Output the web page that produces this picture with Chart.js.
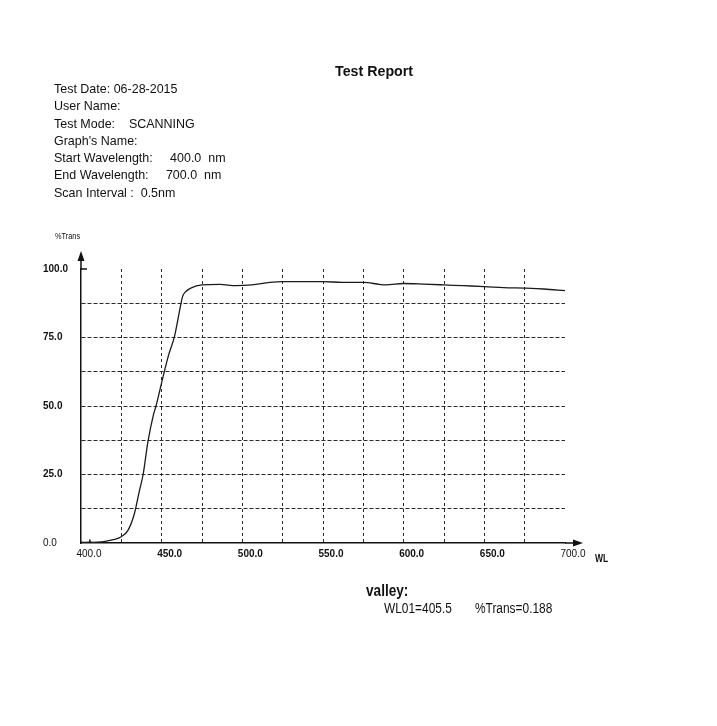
<!DOCTYPE html>
<html>
<head>
<meta charset="utf-8">
<script src="https://cdn.jsdelivr.net/npm/chart.js@4"></script>
<style>
  html, body { margin: 0; padding: 0; background: #fff; }
  #wrap { position: relative; width: 717px; height: 726px; overflow: hidden; }
  #chart { position: absolute; left: 0; top: 0; }
  .t { position: absolute; font-family: 'Liberation Sans', Arial, sans-serif; color: #111; white-space: pre; transform-origin: 0 0; }
</style>
</head>
<body>
<div id="wrap">
  <canvas id="chart" width="717" height="726"></canvas>
  <div class="t" style="left:335px;top:62px;font-size:15px;font-weight:bold;transform:scaleX(0.95);">Test Report</div>
  <div class="t" style="left:54px;top:80px;font-size:13px;line-height:17.3px;transform:scaleX(0.96);">Test Date: 06-28-2015
User Name:
Test Mode:    SCANNING
Graph's Name:
Start Wavelength:     400.0  nm
End Wavelength:     700.0  nm
Scan Interval :  0.5nm</div>
  <div class="t" style="left:55px;top:231px;font-size:9px;transform:scaleX(0.82);">%Trans</div>
  <div class="t" style="left:595px;top:553px;font-size:10px;font-weight:bold;transform:scaleX(0.85);">WL</div>
  <div class="t" style="left:366px;top:582px;font-size:16px;font-weight:bold;transform:scaleX(0.85);">valley:</div>
  <div class="t" style="left:384px;top:600px;font-size:14px;transform:scaleX(0.85);">WL01=405.5</div>
  <div class="t" style="left:475px;top:600px;font-size:14px;transform:scaleX(0.85);">%Trans=0.188</div>
</div>
<script>
// 波長(nm)と透過率(%)
var wavelengths = [400, 405.5, 410, 415, 420, 425, 429, 433, 436, 438.5, 441.5, 445, 446.5, 451, 454.5, 458, 461.5, 463, 465, 468, 475, 486, 496, 506, 517, 525, 537, 550, 562, 575, 585, 589, 600, 612, 625, 637, 650, 662, 675, 687, 700];
var transValues = [0.3, 0.19, 0.3, 0.6, 1.2, 2.3, 4.5, 10.5, 18.5, 25, 37, 47, 50, 61, 69, 75.5, 86, 90, 91.8, 93, 94.2, 94.4, 93.9, 94.2, 95.1, 95.4, 95.4, 95.4, 95.1, 95.1, 94.4, 94.2, 94.7, 94.5, 94.2, 93.9, 93.6, 93.2, 93.0, 92.7, 92.1];
var valleyPoint = [405.5, 0.188];
var xTicks = [400, 450, 500, 550, 600, 650, 700];
var yTicks = [0, 25, 50, 75, 100];

var points = [];
for (var i = 0; i < wavelengths.length; i++) {
  points.push({ x: wavelengths[i], y: transValues[i] });
}

var fontFamily = "'Liberation Sans', Arial, sans-serif";

// 軸の矢印と100の目盛り
var arrowPlugin = {
  id: "arrows",
  afterDraw: function (chart) {
    var ctx = chart.ctx;
    var a = chart.chartArea;
    ctx.save();
    ctx.strokeStyle = "#111";
    ctx.fillStyle = "#111";
    ctx.lineWidth = 1.5;
    ctx.beginPath();
    ctx.moveTo(a.left, a.top);
    ctx.lineTo(a.left, a.top - 12);
    ctx.moveTo(a.right, a.bottom);
    ctx.lineTo(a.right + 10, a.bottom);
    ctx.moveTo(a.left, a.top);
    ctx.lineTo(a.left + 6, a.top);
    ctx.stroke();
    ctx.beginPath();
    ctx.moveTo(a.left, a.top - 18);
    ctx.lineTo(a.left - 3.5, a.top - 8);
    ctx.lineTo(a.left + 3.5, a.top - 8);
    ctx.closePath();
    ctx.fill();
    ctx.beginPath();
    ctx.moveTo(a.right + 18, a.bottom);
    ctx.lineTo(a.right + 8, a.bottom - 3.5);
    ctx.lineTo(a.right + 8, a.bottom + 3.5);
    ctx.closePath();
    ctx.fill();
    ctx.restore();
  },
};

function hideEdge(lo, hi) {
  return function (c) {
    return c.tick && (c.tick.value === lo || c.tick.value === hi) ? "rgba(0,0,0,0)" : "#2a2a2a";
  };
}

new Chart(document.getElementById("chart"), {
  type: "line",
  data: {
    datasets: [
      {
        data: points,
        borderColor: "#1c1a1a",
        borderWidth: 1.3,
        pointRadius: 0,
        cubicInterpolationMode: "monotone",
        fill: false,
      },
      {
        data: [{ x: valleyPoint[0], y: valleyPoint[1] }],
        showLine: false,
        pointStyle: "cross",
        pointRadius: 3,
        borderColor: "#111",
        borderWidth: 1.5,
      },
    ],
  },
  options: {
    responsive: false,
    animation: false,
    events: [],
    layout: { padding: { left: 43, top: 269, right: 152, bottom: 163 } },
    plugins: { legend: { display: false }, tooltip: { enabled: false } },
    scales: {
      x: {
        type: "linear",
        min: 400,
        max: 700,
        afterFit: function (scale) { scale.height = 20; },
        border: { display: true, color: "#111", width: 1.5, dash: [3, 3] },
        grid: { drawTicks: false, lineWidth: 1, color: hideEdge(400, 700) },
        ticks: {
          stepSize: 25,
          padding: 5,
          labelOffset: 8,
          maxRotation: 0,
          autoSkip: false,
          color: "#111",
          font: function (c) {
            var v = c.tick ? c.tick.value : 0;
            return { family: fontFamily, size: 10, weight: v === 400 || v === 700 ? "normal" : "bold" };
          },
          callback: function (v) {
            return xTicks.indexOf(v) >= 0 ? v.toFixed(1) : "";
          },
        },
      },
      y: {
        min: 0,
        max: 100,
        afterFit: function (scale) { scale.width = 38; },
        border: { display: true, color: "#111", width: 1.5, dash: [4, 2] },
        grid: { drawTicks: false, lineWidth: 1, color: hideEdge(0, 100) },
        ticks: {
          stepSize: 12.5,
          crossAlign: "far",
          autoSkip: false,
          color: "#111",
          font: function (c) {
            var v = c.tick ? c.tick.value : 0;
            return { family: fontFamily, size: 10, weight: v === 0 ? "normal" : "bold" };
          },
          callback: function (v) {
            return yTicks.indexOf(v) >= 0 ? v.toFixed(1) : "";
          },
        },
      },
    },
  },
  plugins: [arrowPlugin],
});
</script>
</body>
</html>
